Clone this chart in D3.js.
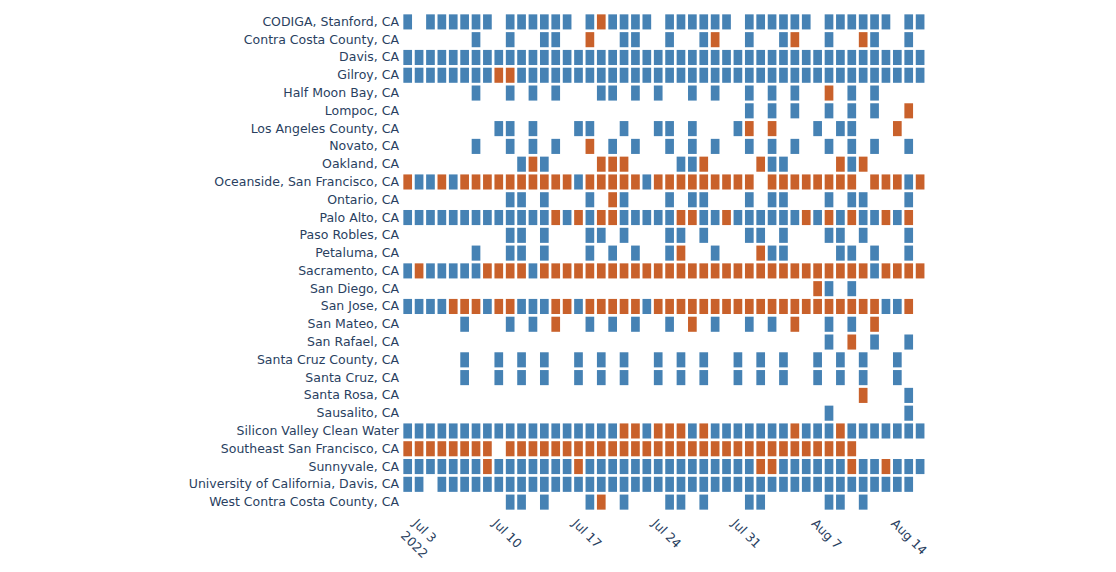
<!DOCTYPE html>
<html>
<head>
<meta charset="utf-8">
<script src="https://cdn.jsdelivr.net/npm/d3@7"></script>
<style>
  html, body { margin: 0; padding: 0; background: #fff; }
  svg { display: block; }
  text { font-family: "DejaVu Sans", sans-serif; }
</style>
</head>
<body>
<svg id="chart" width="1116" height="572"></svg>
<script>
// ---- Data ----
const sites = [
  "CODIGA, Stanford, CA",
  "Contra Costa County, CA",
  "Davis, CA",
  "Gilroy, CA",
  "Half Moon Bay, CA",
  "Lompoc, CA",
  "Los Angeles County, CA",
  "Novato, CA",
  "Oakland, CA",
  "Oceanside, San Francisco, CA",
  "Ontario, CA",
  "Palo Alto, CA",
  "Paso Robles, CA",
  "Petaluma, CA",
  "Sacramento, CA",
  "San Diego, CA",
  "San Jose, CA",
  "San Mateo, CA",
  "San Rafael, CA",
  "Santa Cruz County, CA",
  "Santa Cruz, CA",
  "Santa Rosa, CA",
  "Sausalito, CA",
  "Silicon Valley Clean Water",
  "Southeast San Francisco, CA",
  "Sunnyvale, CA",
  "University of California, Davis, CA",
  "West Contra Costa County, CA"
];

// first and last sample date (one column per day)
const firstDate = "2022-07-02";
const lastDate = "2022-08-16";

// Per-site daily status, one character per day:
// "B" = status A (blue), "O" = status B (orange), "." = no sample
const statusRows = [
  "B.BBBBBB.BBBBBB." + "BOBBBB.BBBBBB.BB" + "BBBB.BBBBBB.BB",
  "......B..B..BB.." + "O..BB..B..BO..B." + ".BO..B..OB..B.",
  "BBBBBBBBBBBBBBBB" + "BBBBBBBBBBBBBBBB" + "BBBBBBBBBBBBBB",
  "BBBBBBBBOOBBBBBB" + "BBBBBBBBBBBBBBBB" + "BBBBBBBBBBBBBB",
  "......B..B.B.B.." + ".BB.B.B..B.B..B." + "B.B..O.B.B....",
  "................" + "..............B." + "B.B..B.B.B..O.",
  "........BB.B...B" + "B..B..BB.B...BO." + "O...B.BB...O..",
  "......B..B.B.B.." + "O.B.B..B.B.B..B." + "B.B..B.B.B..B.",
  "..........BOB..." + ".OOO....BBO....O" + "BB....OBO.....",
  "OBBOBOOOOOOOOOOB" + "OOOOOBOOOOOOOOO." + "OOOOOOOO.OOOBO",
  ".........BB.B..." + "B.OB...B.BB...B." + "BB...B.BB...B.",
  "BBBBBBBBBBBBBOBO" + "BOOBBBBBOOBBOBBB" + "BBBOBOBOBBOBO.",
  ".........BB.B..." + "BB.B...BB.B...BB" + ".B...BB.B...B.",
  "......B..BB.B..." + "B.B.B..BO..B...O" + "BB....BB.B..B.",
  "BOBBBBBOOOOBOOOO" + "OOOOOOOOOOOOOOOO" + "OOOOOOOOOBOOOO",
  "................" + "................" + "....OB.B......",
  "BBBBOOOBOOBBBOOB" + "OOOOOBOOOOOOOOOO" + "OOOOOOOOOOBBO.",
  ".....B...B.B.O.." + "B.B.B..B.O.B..B." + "B.O..B.B.O....",
  "................" + "................" + ".....B.O.B..B.",
  ".....B..B.B.B..B" + ".B.B..B.B.B..B.B" + ".B..B.B.B..B..",
  ".....B..B.B.B..B" + ".B.B..B.B.B..B.B" + ".B..B.B.B..B..",
  "................" + "................" + "........O...B.",
  "................" + "................" + ".....B......B.",
  "BBBBBBBBBBBBBBBB" + "BBBOOBOOOBOBBBBB" + "BBOBBBOBBBBBBB",
  "OOOOOOOO.OOOOOOO" + "OOOOOOOOOOOOOOOO" + "OOOOOOOO......",
  "BBBBBBBOBBBBBBBO" + "BBBBBBBBBBBBBBBO" + "OBBBBBBOBBOBBB",
  "BB.BBBBBBBBBBBBB" + "BBBBBBBBBBBBBBBB" + "BBBBBBBBBBBBB.",
  ".........BB.B..." + "BO.B...BB.B...BB" + ".....BB.B....."
];

const statusCodes = ["B", "O"];
const statusColors = ["#4682b4", "#c9612b"];

const tickDates = ["2022-07-03", "2022-07-10", "2022-07-17", "2022-07-24", "2022-07-31", "2022-08-07", "2022-08-14"];
const tickLabels = [["Jul 3", "2022"], ["Jul 10"], ["Jul 17"], ["Jul 24"], ["Jul 31"], ["Aug 7"], ["Aug 14"]];

// ---- Layout ----
const plot = { left: 402, right: 925.8, top: 13, bottom: 511 };
const parse = d3.utcParse("%Y-%m-%d");
const days = d3.utcDay.range(parse(firstDate), d3.utcDay.offset(parse(lastDate), 1));

const x = d3.scaleUtc()
  .domain([days[0], d3.utcDay.offset(days[days.length - 1], 1)])
  .range([plot.left, plot.right]);

const y = d3.scaleBand()
  .domain(sites)
  .range([plot.top, plot.bottom])
  .padding(0);

const color = d3.scaleOrdinal().domain(statusCodes).range(statusColors);

const svg = d3.select("#chart");
svg.append("rect").attr("width", 1116).attr("height", 572).attr("fill", "#fff");

const gap = 2.7;
const cells = [];
statusRows.forEach((row, i) => {
  row.split("").forEach((c, j) => {
    if (c !== ".") cells.push({ site: sites[i], date: days[j], code: c });
  });
});

svg.append("g").selectAll("rect")
  .data(cells)
  .join("rect")
  .attr("x", d => x(d.date) + gap / 2)
  .attr("width", d => x(d3.utcDay.offset(d.date, 1)) - x(d.date) - gap)
  .attr("y", d => y(d.site) + gap / 2)
  .attr("height", y.bandwidth() - gap)
  .attr("fill", d => color(d.code));

// Y axis labels
const yAxis = d3.axisLeft(y).tickSize(0).tickPadding(3);
const gy = svg.append("g").attr("transform", `translate(${plot.left},0)`).call(yAxis);
gy.select(".domain").remove();
gy.selectAll("text")
  .attr("fill", "#2a3f5f")
  .style("font-size", "12.5px")
  .style("font-family", '"DejaVu Sans", sans-serif');

// X tick labels (rotated 45 degrees)
const gx = svg.append("g");
tickDates.forEach((td, i) => {
  const px = x(parse(td));
  const t = gx.append("text")
    .attr("transform", `translate(${px + 5},${plot.bottom + 7}) rotate(45)`)
    .attr("fill", "#2a3f5f")
    .style("font-size", "12.5px")
    .attr("text-anchor", "start");
  tickLabels[i].forEach((line, k) => {
    t.append("tspan")
      .attr("x", 0)
      .attr("y", k * 17)
      .attr("dy", "0.71em")
      .text(line);
  });
});
</script>
</body>
</html>
